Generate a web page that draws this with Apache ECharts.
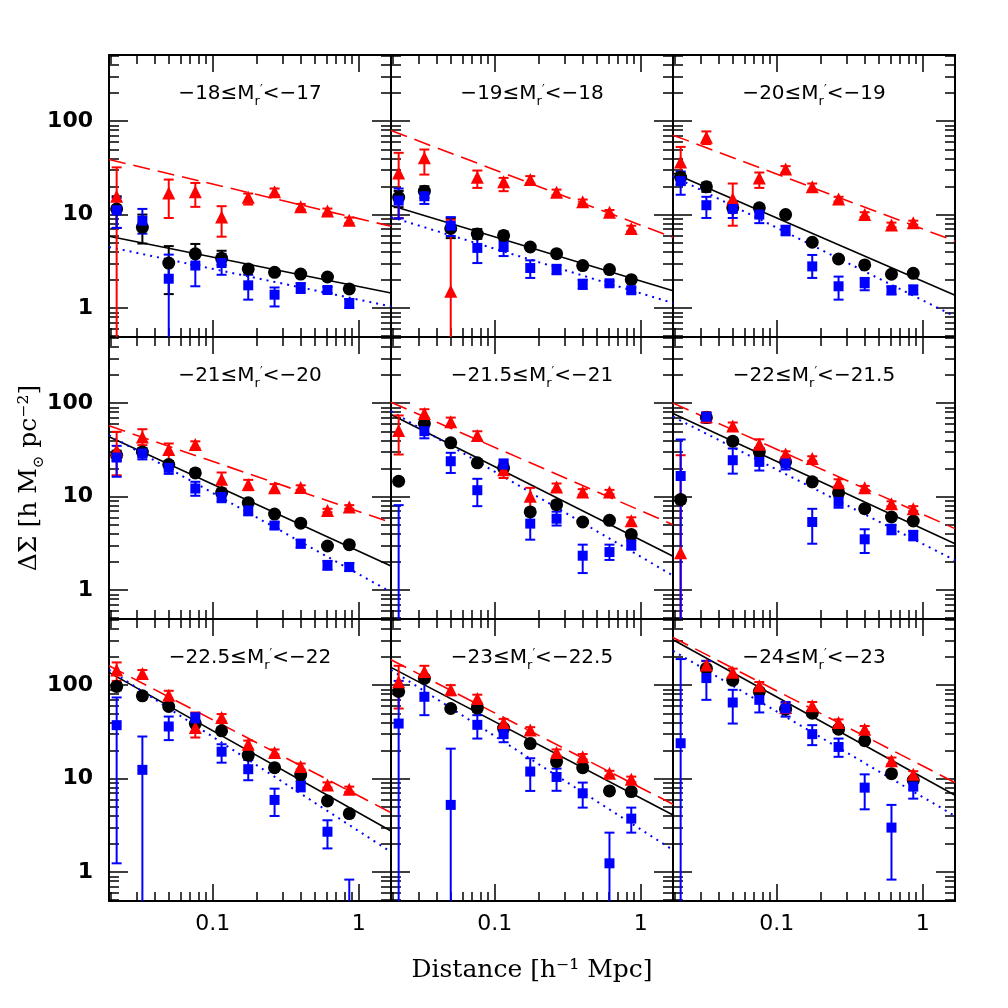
<!DOCTYPE html>
<html><head><meta charset="utf-8">
<script src="https://cdn.jsdelivr.net/npm/echarts@6/dist/echarts.min.js"></script>
<style>html,body{margin:0;padding:0;background:#fff}#c{width:1008px;height:1008px}</style>
</head><body><div id="c"></div><script>
// ---------------- data ----------------
const radii = [0.022, 0.033, 0.05, 0.076, 0.115, 0.175, 0.265, 0.40, 0.61, 0.86];
const fitX = [0.0195, 1.66];              // fit lines evaluated at these radii
const xMajorTicks = [0.1, 1];
const xMinorTicks = [0.02,0.03,0.04,0.05,0.06,0.07,0.08,0.09,0.2,0.3,0.4,0.5,0.6,0.7,0.8,0.9];
const yMajorTicks = [1, 10, 100];
const yMinorTicks = [0.5,0.6,0.7,0.8,0.9,2,3,4,5,6,7,8,9,20,30,40,50,60,70,80,90,200,300,400,500];
const panelRanges = [['−18','−17'],['−19','−18'],['−20','−19'],['−21','−20'],['−21.5','−21'],['−22','−21.5'],['−22.5','−22'],['−23','−22.5'],['−24','−23']];

// each entry: [value, lower, upper]; null = no point
const p1Black = [[11.5,7.2,15.7],[7.3,4.9,10],[3.03,1.41,4.6],[3.8,2.9,4.85],[3.4,2.9,4.1],[2.62,2.42,2.82],[2.41,2.25,2.58],[2.31,2.18,2.45],[2.15,2.03,2.28],[1.6,1.5,1.7]];
const p1Red   = [[15.7,0.1,32],null,[17,9.2,23.7],[17.6,12.1,21.8],[9.4,5.8,12.3],[15.3,12.8,16.8],[17.6,16.2,19],[12.1,11.3,13],[10.9,10.2,11.6],[8.7,8.1,9.3]];
const p1Blue  = [[11.1,7.2,15.1],[8.6,6.25,11.5],[2.06,0.1,3.73],[2.85,1.71,3.73],[3.03,2.27,3.8],[1.75,1.23,2.27],[1.39,1.04,1.66],[1.66,1.45,1.85],[1.56,1.45,1.68],[1.13,1.0,1.25]];
const p1Fit   = [[5.86,1.45],[38.8,7.5],[4.5,1.04]];

const p2Black = [[15.3,12,17.9],[17.8,15.1,20.1],[7.1,5.6,9.2],[6.2,5.5,7.0],[5.96,5.4,6.6],[4.5,4.2,4.8],[3.82,3.6,4.05],[2.85,2.7,3.0],[2.58,2.45,2.7],[2.01,1.9,2.12]];
const p2Red   = [[27.9,9.2,45.8],[40.5,26.8,49.7],[1.51,0.1,8.8],[25.1,19.3,29.6],[22.4,17.8,24.7],[23.7,21.5,25.8],[17.3,16.2,18.5],[13.7,12.9,14.5],[10.6,10,11.2],[7.1,6.6,7.6]];
const p2Blue  = [[14.1,9.1,19],[15.7,13,17.8],[7.6,5.9,9.4],[4.4,3.03,5.7],[4.5,3.6,5.2],[2.68,2.1,3.24],[2.58,2.3,2.9],[1.82,1.6,2.0],[1.84,1.75,1.93],[1.55,1.45,1.65]];
const p2Fit   = [[12.5,1.53],[79.4,5.7],[9.4,1.13]];

const p3Black = [[25.1,21,28],[19.8,17.5,22],[11.8,10.8,13.5],[11.8,10.8,12.5],[10,9.5,10.5],[5.06,4.8,5.3],[3.35,3.1,3.6],[2.89,2.75,3.0],[2.3,2.2,2.4],[2.35,2.25,2.45]];
const p3Red   = [[36.6,24.5,53],[67.4,56.8,77.6],[14.8,7.6,21.5],[24.7,19.3,28.2],[30.8,28,33],[19.8,18,21.5],[14.7,13.8,15.5],[10,9.4,10.6],[7.75,7.3,8.2],[8.2,7.8,8.6]];
const p3Blue  = [[22.8,16.3,28.9],[12.6,9.2,15.5],[11.5,9.2,13.2],[10,8.1,11.1],[6.8,6.0,7.6],[2.79,2.1,3.7],[1.71,1.23,2.17],[1.84,1.55,2.1],[1.55,1.4,1.7],[1.55,1.4,1.75]];
const p3Fit   = [[27.9,1.37],[70.8,5.2],[25.8,0.815]];

const p4Black = [[27.7,24,31],[30,27,33],[22,20,24],[17.9,16.5,19.5],[11,10.3,11.8],[8.6,8.1,9.1],[6.5,6.2,6.8],[5.2,5.0,5.4],[2.96,2.85,3.1],[3.06,2.95,3.2]];
const p4Red   = [[31.3,16.9,49.3],[43.5,35.5,52.6],[31.9,23.5,37],[36,33,39],[15.3,12.2,18.1],[13.5,11.7,15.1],[12.4,11.3,13.6],[12.5,11.8,13.2],[7.1,6.8,7.4],[7.75,7.4,8.1]];
const p4Blue  = [[26.2,16.3,34.9],[28.9,25,32],[20.3,17.5,23.5],[12.2,10.2,14.4],[9.9,8.7,11.2],[7.1,6.3,7.9],[4.9,4.5,5.3],[3.13,2.85,3.45],[1.84,1.65,2.05],[1.76,1.6,1.95]];
const p4Fit   = [[43.6,1.81],[57.2,5.27],[45.4,0.95]];

const p5Black = [[14.6,13.5,15.8],[60.5,56,65],[37.6,35,40.5],[23,21.5,24.5],[20.3,19,21.5],[6.86,6.3,7.4],[8.2,7.5,9.0],[5.35,5.1,5.6],[5.57,5.3,5.85],[3.92,3.6,4.3]];
const p5Red   = [[50.9,28.2,73.8],[77.4,70,86],[63.1,56,70],[45.1,40,50],[19.4,15.8,23],[10.1,7.0,12.4],[12.7,11.6,13.8],[11.2,10.5,12],[11.2,10.6,11.8],[5.53,5.0,6.0]];
const p5Blue  = [[0.4,0.1,8.1],[50.1,42,57],[23.9,17.9,29.4],[11.7,7.9,15.5],[22,19.5,25],[5.14,3.46,7.0],[5.8,4.9,6.9],[2.33,1.52,3.06],[2.55,2.1,3.06],[3.06,2.7,3.4]];
const p5Fit   = [[75.6,2.3],[102,5.0],[82,1.43]];

const p6Black = [[9.3,8.5,10.2],[70.2,64,77],[39.2,36,42],[30.1,27.5,33],[23.5,22,25],[14.4,13.5,15.3],[11,10.3,11.7],[7.43,7.0,7.9],[6.05,5.7,6.4],[5.48,5.2,5.8]];
const p6Red   = [[2.51,0.1,27.7],[71.5,62,80],[56.8,51,62],[36.4,32,41],[28.5,26.5,30.5],[25.5,24,27],[14.1,13,15.3],[12.4,11.8,13],[8.4,7.9,8.9],[7.43,7.0,7.9]];
const p6Blue  = [[16.6,0.1,40.8],[71.5,62,79],[24.5,17.6,32.7],[23.5,19,27],[22.6,19.5,25.5],[5.35,3.13,7.4],[8.78,7.6,10],[3.49,2.49,4.47],[4.47,3.95,5.0],[3.85,3.4,4.3]];
const p6Fit   = [[77.4,3.13],[100,4.54],[71.5,2.08]];

const p7Black = [[96.8,88,105],[76.9,71,83],[59.1,55,63],[38.8,36,41.5],[32.4,30.5,34.5],[17.8,16.5,19],[13.1,12.3,14],[10.9,10.2,11.6],[5.77,5.4,6.15],[4.22,3.9,4.55]];
const p7Red   = [[145,111,175],[133,121,145],[78.1,69,87],[35.2,27.5,50.9],[45.1,41,49],[23.3,21,25.5],[19,17.5,20.5],[13.5,12.5,14.5],[8.55,8.0,9.1],[7.69,7.2,8.2]];
const p7Blue  = [[37.3,1.24,73.8],[12.4,0.1,28.2],[36.1,25.8,46.1],[44,38,50],[19.4,14.8,23.3],[12.6,9.6,15.8],[5.91,3.98,7.8],[8.34,7.3,9.4],[2.7,1.79,3.58],[0.3,0.1,0.83]];
const p7Fit   = [[137,2.75],[161,4.32],[146,1.64]];

const p8Black = [[85.5,78,93],[118,108,128],[56.2,52,61],[56.8,52,61],[34.6,32,37],[23.7,22,25.5],[15.2,14,16.5],[13.1,12.2,14],[7.38,6.9,7.9],[7.26,6.8,7.7]];
const p8Red   = [[109,56.2,161],[140,122,161],[89.1,78,100],[71.9,65,79],[39.8,36,43.5],[33.2,30.5,35.5],[19,17.5,20.5],[17.1,16,18.3],[11.4,10.7,12.1],[9.84,9.2,10.5]];
const p8Blue  = [[38.8,0.1,111],[75,47.7,111],[5.23,0.1,20.9],[37.6,26.8,47.7],[29.9,24.5,34.5],[11.9,7.38,16.5],[10.4,7.4,12.8],[6.96,4.89,9.06],[1.24,0.1,2.64],[3.73,2.64,4.89]];
const p8Fit   = [[155,4.08],[187,5.31],[146,1.72]];

const p9Black = [null,[151,140,162],[113,104,122],[85.5,79,92],[55.3,51,60],[50.1,47,53.5],[33.8,31.5,36],[25.4,24,27],[11.3,10.5,12.1],[9.6,9.0,10.2]];
const p9Red   = [null,[164,148,180],[137,124,150],[98.4,88,108],[57.7,50,65],[60.1,54,66],[39.8,36.5,43],[33.8,31.5,36.5],[15.5,14.3,16.8],[11.1,10.2,12]];
const p9Blue  = [[23.9,0.1,190],[119,69.6,182],[65.2,38.8,89.1],[69.6,51,89],[56.2,46,66],[29.9,22.8,37.3],[21.8,17.1,26.8],[8.0,4.69,11.1],[2.99,0.83,5.23],[8.2,6.1,10.3]];
const p9Fit   = [[306,6.63],[324,9.06],[233,3.98]];

const panelBlack = [p1Black,p2Black,p3Black,p4Black,p5Black,p6Black,p7Black,p8Black,p9Black];
const panelRed   = [p1Red,p2Red,p3Red,p4Red,p5Red,p6Red,p7Red,p8Red,p9Red];
const panelBlue  = [p1Blue,p2Blue,p3Blue,p4Blue,p5Blue,p6Blue,p7Blue,p8Blue,p9Blue];
const panelFit   = [p1Fit,p2Fit,p3Fit,p4Fit,p5Fit,p6Fit,p7Fit,p8Fit,p9Fit];

// ---------------- layout / style ----------------
const X_MIN = 0.0195, X_MAX = 1.66, Y_MIN = 0.49, Y_MAX = 510;
const GL = [109, 391, 673], GT = [55, 337, 619], GS = 282;
const RED = '#ff0000', BLUE = '#0000ff', BLACK = '#000000';
const tickFont = 'DejaVu Sans';

const grids = [], xAxes = [], yAxes = [], series = [], graphics = [];

function xAxisDef(i, pos, major, showLabel) {
  return {
    type: 'log', logBase: 10, gridIndex: i, position: pos, min: X_MIN, max: X_MAX,
    axisLine: { show: major, onZero: false, lineStyle: { color: BLACK, width: 2 } },
    axisTick: { show: true, inside: true, length: major ? 17 : 9,
      customValues: major ? xMajorTicks : xMinorTicks, lineStyle: { color: BLACK, width: 1.5 } },
    axisLabel: { show: showLabel, customValues: xMajorTicks, margin: 12, color: BLACK,
      fontFamily: tickFont, fontSize: 22, formatter: v => String(+v.toPrecision(3)) },
    splitLine: { show: false }, minorTick: { show: false }, minorSplitLine: { show: false }
  };
}
function yAxisDef(i, pos, major, showLabel) {
  return {
    type: 'log', logBase: 10, gridIndex: i, position: pos, min: Y_MIN, max: Y_MAX,
    axisLine: { show: major, onZero: false, lineStyle: { color: BLACK, width: 2 } },
    axisTick: { show: true, inside: true, length: major ? 19 : 10,
      customValues: major ? yMajorTicks : yMinorTicks, lineStyle: { color: BLACK, width: 1.5 } },
    axisLabel: { show: showLabel, customValues: yMajorTicks, margin: 16, color: BLACK,
      fontFamily: tickFont, fontWeight: 'bold', fontSize: 22, formatter: v => String(Math.round(v)) },
    splitLine: { show: false }, minorTick: { show: false }, minorSplitLine: { show: false }
  };
}

function errRender(color) {
  return function (params, api) {
    const x = api.value(0), lo = api.value(1), hi = api.value(2);
    const pHi = api.coord([x, Math.min(hi, Y_MAX)]);
    const pLo = api.coord([x, Math.max(lo, Y_MIN)]);
    const w = 5;
    const ch = [{ type: 'line', shape: { x1: pHi[0], y1: pHi[1], x2: pLo[0], y2: pLo[1] }, style: { stroke: color, lineWidth: 2 } }];
    if (hi <= Y_MAX) ch.push({ type: 'line', shape: { x1: pHi[0] - w, y1: pHi[1], x2: pHi[0] + w, y2: pHi[1] }, style: { stroke: color, lineWidth: 2 } });
    if (lo >= Y_MIN) ch.push({ type: 'line', shape: { x1: pLo[0] - w, y1: pLo[1], x2: pLo[0] + w, y2: pLo[1] }, style: { stroke: color, lineWidth: 2 } });
    return { type: 'group', children: ch };
  };
}

for (let i = 0; i < 9; i++) {
  const col = i % 3, row = Math.floor(i / 3);
  grids.push({ left: GL[col], top: GT[row], width: GS, height: GS, containLabel: false, outerBoundsMode: 'none' });
  const xi = xAxes.length, yi = yAxes.length;
  xAxes.push(xAxisDef(i, 'bottom', true, row === 2));
  xAxes.push(xAxisDef(i, 'bottom', false, false));
  xAxes.push(xAxisDef(i, 'top', true, false));
  xAxes.push(xAxisDef(i, 'top', false, false));
  yAxes.push(yAxisDef(i, 'left', true, col === 0));
  yAxes.push(yAxisDef(i, 'left', false, false));
  yAxes.push(yAxisDef(i, 'right', true, false));
  yAxes.push(yAxisDef(i, 'right', false, false));

  // fit lines: black solid, red dashed, blue dotted
  const fits = panelFit[i];
  const fitStyles = [
    { color: BLACK, width: 1.6, type: 'solid' },
    { color: RED, width: 1.6, type: [17, 8] },
    { color: BLUE, width: 2, type: [2, 5] }
  ];
  fits.forEach((f, k) => {
    series.push({ type: 'line', xAxisIndex: xi, yAxisIndex: yi, silent: true, symbol: 'none',
      data: fitX.map((x, j) => [x, f[j]]), lineStyle: fitStyles[k], z: 2, clip: true });
  });

  const sets = [
    [panelBlack[i], BLACK, 'circle', 13],
    [panelRed[i], RED, 'triangle', 13],
    [panelBlue[i], BLUE, 'rect', 10]
  ];
  sets.forEach(([arr, color, sym, size]) => {
    const err = [], pts = [];
    arr.forEach((d, k) => {
      if (!d) return;
      err.push([radii[k], d[1], d[2]]);
      if (d[0] >= Y_MIN) pts.push([radii[k], d[0]]);
    });
    series.push({ type: 'custom', xAxisIndex: xi, yAxisIndex: yi, silent: true, clip: true,
      data: err, encode: { x: 0, y: [1, 2] }, renderItem: errRender(color), z: 3 });
    series.push({ type: 'scatter', xAxisIndex: xi, yAxisIndex: yi, silent: true, clip: true,
      data: pts, symbol: sym, symbolSize: size, itemStyle: { color: color, opacity: 1 }, z: 3 });
  });

  // panel title
  const r = panelRanges[i];
  graphics.push({
    type: 'text', x: GL[col] + GS / 2, y: GT[row] + 41, z: 10,
    style: {
      text: `{n|${r[0]}≤M}{s|r}{p|′}{n|<${r[1]}}`,
      align: 'center', verticalAlign: 'middle', fill: BLACK,
      rich: {
        n: { fontFamily: tickFont, fontSize: 20, lineHeight: 24, verticalAlign: 'top', fill: BLACK },
        s: { fontFamily: tickFont, fontSize: 13, lineHeight: 8, verticalAlign: 'bottom', fill: BLACK },
        p: { fontFamily: tickFont, fontSize: 12, lineHeight: 24, verticalAlign: 'top', fill: BLACK }
      }
    }
  });
}

// axis titles
graphics.push({
  type: 'text', x: 532, y: 970, z: 10,
  style: { text: 'Distance [h⁻¹ Mpc]', align: 'center', verticalAlign: 'middle',
    fontFamily: 'DejaVu Serif', fontSize: 25, fill: BLACK }
});
graphics.push({
  type: 'text', x: 32, y: 478, rotation: Math.PI / 2, z: 10,
  style: { text: '{n|ΔΣ [h M}{s|⊙}{n| pc⁻²]}', align: 'center', verticalAlign: 'middle', fill: BLACK,
    rich: {
      n: { fontFamily: 'DejaVu Serif', fontSize: 25, lineHeight: 30, verticalAlign: 'top', fill: BLACK },
      s: { fontFamily: 'DejaVu Serif', fontSize: 15, lineHeight: 10, verticalAlign: 'bottom', fill: BLACK }
    } }
});

const chart = echarts.init(document.getElementById('c'), null, { renderer: 'canvas' });
chart.setOption({
  animation: false,
  backgroundColor: '#ffffff',
  grid: grids, xAxis: xAxes, yAxis: yAxes, series: series, graphic: graphics
});
</script></body></html>
